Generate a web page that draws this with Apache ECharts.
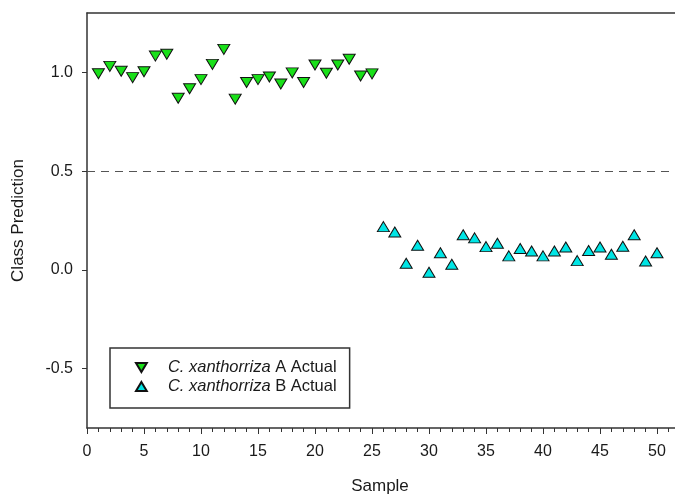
<!DOCTYPE html>
<html>
<head>
<meta charset="utf-8">
<script src="https://cdn.jsdelivr.net/npm/echarts@6/dist/echarts.min.js"></script>
<style>
html,body{margin:0;padding:0;background:#fff;overflow:hidden;width:675px;height:497px;}
#chart{width:717px;height:497px;}
</style>
</head>
<body>
<div id="chart"></div>
<script>
// Sample numbers
var samplesA = [1,2,3,4,5,6,7,8,9,10,11,12,13,14,15,16,17,18,19,20,21,22,23,24,25];
var samplesB = [26,27,28,29,30,31,32,33,34,35,36,37,38,39,40,41,42,43,44,45,46,47,48,49,50];
// Class predictions
var predA = [0.993,1.030,1.005,0.973,1.003,1.082,1.091,0.869,0.917,0.963,1.040,1.116,0.864,0.948,0.963,0.976,0.941,0.997,0.948,1.037,0.995,1.037,1.066,0.981,0.992];
var predB = [0.219,0.192,0.034,0.125,-0.012,0.087,0.029,0.178,0.162,0.118,0.135,0.071,0.108,0.096,0.071,0.096,0.116,0.047,0.098,0.116,0.079,0.120,0.178,0.045,0.087];
var seriesNames = ['C. xanthorriza A Actual','C. xanthorriza B Actual'];
var yTickValues = [-0.5,0,0.5,1.0];
var threshold = 0.5;

function pairs(xs, ys){ return xs.map(function(x,i){ return [x, ys[i]]; }); }

var axisColor = '#333333';
var textColor = '#1a1a1a';
var font = 'Liberation Sans, Arial, sans-serif';

var chart = echarts.init(document.getElementById('chart'));
chart.setOption({
  animation:false,
  backgroundColor:'#ffffff',
  grid:{left:87, right:0, top:13, bottom:69, containLabel:false},
  xAxis:[{
    type:'value', min:0, max:55, interval:5, position:'bottom',
    axisLine:{show:true, onZero:false, lineStyle:{color:axisColor, width:1.5}},
    axisTick:{show:true, inside:false, length:6, lineStyle:{color:axisColor, width:1}},
    minorTick:{show:true, splitNumber:5, length:4, lineStyle:{color:axisColor, width:1}},
    axisLabel:{fontSize:16, color:textColor, fontFamily:font, margin:16,
      formatter:function(v){ return v<=50 ? String(v) : ''; }},
    splitLine:{show:false}, minorSplitLine:{show:false}
  },{
    type:'value', min:0, max:55, position:'top',
    axisLine:{show:true, onZero:false, lineStyle:{color:axisColor, width:1.5}},
    axisTick:{show:false}, axisLabel:{show:false}, splitLine:{show:false}
  }],
  yAxis:{
    type:'value', min:-0.8, max:1.3,
    axisLine:{show:true, onZero:false, lineStyle:{color:axisColor, width:1.5}},
    axisTick:{show:true, inside:false, length:5, customValues:yTickValues, lineStyle:{color:axisColor, width:1}},
    axisLabel:{customValues:yTickValues, fontSize:16, color:textColor, fontFamily:font, margin:14,
      formatter:function(v){ return v.toFixed(1); }},
    splitLine:{show:false},
    name:'Class Prediction', nameLocation:'middle', nameGap:60,
    nameTextStyle:{fontSize:17, color:textColor, fontFamily:font}
  },
  graphic:[{
    type:'text', x:380, y:486,
    style:{text:'Sample', fontSize:17, fill:textColor, fontFamily:font, align:'center', verticalAlign:'middle'}
  }],
  legend:{
    orient:'vertical', left:110, top:348,
    padding:[11,13,13,25], itemGap:2,
    borderColor:axisColor, borderWidth:1.5,
    itemWidth:11, itemHeight:9,
    data:[
      {name:seriesNames[0], icon:'path://M0,0 L12,0 L6,10 Z'},
      {name:seriesNames[1], icon:'path://M6,0 L12,10 L0,10 Z'}
    ],
    formatter:function(name){
      var rest = name.replace('C. xanthorriza','');
      return '{i|C. xanthorriza}' + rest;
    },
    textStyle:{fontSize:16.5, lineHeight:17, color:textColor, fontFamily:font, padding:[0,0,0,16],
      rich:{i:{fontStyle:'italic', fontSize:16.5, lineHeight:17, color:textColor, fontFamily:font}}}
  },
  series:[{
    name:seriesNames[0], type:'scatter', xAxisIndex:0,
    data:pairs(samplesA, predA),
    symbol:'triangle', symbolRotate:180, symbolSize:[12,10],
    itemStyle:{color:'#19e019', borderColor:'#111', borderWidth:1, opacity:1},
    markLine:{
      silent:true, symbol:['none','none'], label:{show:false},
      lineStyle:{type:[8,6], color:'#555', width:1},
      data:[{yAxis:threshold}]
    },
    z:3
  },{
    name:seriesNames[1], type:'scatter', xAxisIndex:0,
    data:pairs(samplesB, predB),
    symbol:'triangle', symbolSize:[12,10],
    itemStyle:{color:'#00e5e5', borderColor:'#111', borderWidth:1, opacity:1},
    z:3
  }]
});
</script>
</body>
</html>
